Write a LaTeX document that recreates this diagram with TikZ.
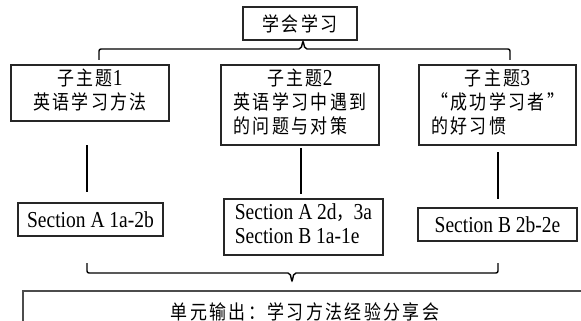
\documentclass[tikz,border=0pt]{standalone}
\usepackage{fontspec}
\usepackage{graphicx}
\setmainfont{Liberation Serif}
\newfontfamily\cjk[LetterSpace=14,Scale=0.87]{Noto Sans CJK SC}
\newcommand\vs[1]{\scalebox{1}[1.17]{#1}}
\begin{document}
\begin{tikzpicture}[x=1pt,y=-1pt,
  box/.style={draw=black!85, line width=1.1pt, inner sep=0pt},
  conn/.style={draw=black, line width=1.4pt},
  brace/.style={draw=black, line width=1.4pt, rounded corners=2pt},
  font=\fontsize{19.5}{20.5}\selectfont]
\useasboundingbox (0,0) rectangle (581,321);
\clip (0,0) rectangle (581,321);
% boxes
\node[box, minimum width=114pt, minimum height=33pt] (top) at (300,23.5) {\vs{\cjk 学会学习}};
\node[box, minimum width=158pt, minimum height=56pt] (b1) at (90,93)
  {\vs{\begin{tabular}{@{}c@{}}{\cjk 子主题}1\\{\cjk 英语学习方法}\end{tabular}}};
\node[box, minimum width=158pt, minimum height=80pt] (b2) at (300,105)
  {\vs{\begin{tabular}{@{}l@{}}\multicolumn{1}{@{}c@{}}{{\cjk 子主题}2}\\{\cjk 英语学习中遇到}\\{\cjk 的问题与对策}\end{tabular}}};
\node[box, minimum width=157pt, minimum height=80pt] (b3) at (497.5,105)
  {\vs{\begin{tabular}{@{}l@{}}\multicolumn{1}{@{}c@{}}{{\cjk 子主题}3}\\{\cjk “成功学习者”}\\{\cjk 的好习惯}\end{tabular}}};
\node[box, minimum width=145pt, minimum height=33pt] (s1) at (90.5,219.5) {\vs{Section A 1a-2b}};
\node[box, minimum width=159pt, minimum height=56pt] (s2) at (303.5,227)
  {\vs{\begin{tabular}{@{}l@{}}Section A 2d{\cjk ，}3a\\Section B 1a-1e\end{tabular}}};
\node[box, minimum width=159pt, minimum height=33pt] (s3) at (497.5,224.5) {\vs{Section B 2b-2e}\hspace{12pt}};
\node[box, draw=black!70, minimum width=564pt, minimum height=42pt] (out) at (305,312)
  {\vs{\cjk 单元输出：学习方法经验分享会}};
% vertical connectors
\coordinate (v1a) at (87,145);  \coordinate (v1b) at (87,192);
\coordinate (v2a) at (301,148); \coordinate (v2b) at (301,194);
\coordinate (v3a) at (498,152); \coordinate (v3b) at (498,199);
\draw[conn] (v1a) -- (v1b);
\draw[conn] (v2a) -- (v2b);
\draw[conn] (v3a) -- (v3b);
% top brace
\coordinate (tl) at (99,60); \coordinate (tr) at (510,60);
\draw[brace] (tl) -- (99,49) -- (301,49) -- ([xshift=3pt]top.south) -- (305,49) -- (510,49) -- (tr);
% bottom brace
\coordinate (bl) at (87,263); \coordinate (br) at (498,263); \coordinate (btip) at (292,282);
\draw[brace] (bl) -- (87,273) -- (290,273) -- (btip) -- (294,273) -- (498,273) -- (br);
\end{tikzpicture}
\end{document}
